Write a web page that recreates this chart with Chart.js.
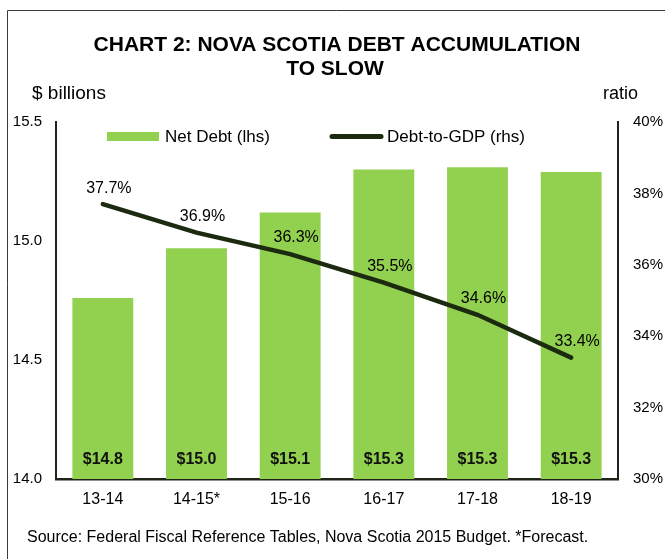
<!DOCTYPE html>
<html>
<head>
<meta charset="utf-8">
<script src="https://cdn.jsdelivr.net/npm/chart.js@4.4.1/dist/chart.umd.min.js"></script>
<style>
  html, body { margin: 0; padding: 0; background: #ffffff; }
  canvas { display: block; }
</style>
</head>
<body>
<canvas id="grafDivida" width="665" height="559"></canvas>
<script>
// dados do gráfico
var categorias = ['13-14', '14-15*', '15-16', '16-17', '17-18', '18-19'];
var dividaLiquida = [14.76, 14.97, 15.12, 15.30, 15.31, 15.29];
var rotulosDivida = ['$14.8', '$15.0', '$15.1', '$15.3', '$15.3', '$15.3'];
var dividaPib = [37.7, 36.9, 36.3, 35.5, 34.6, 33.4];
var ticksEsquerda = [14.0, 14.5, 15.0, 15.5];
var ticksDireita = [30, 32, 34, 36, 38, 40];

var corBarra = '#92d050';
var corLinha = '#1c2a10';
var corEixo = '#1e2418';
var fonte = '"Liberation Sans", Arial, sans-serif';

// textos, legenda e rótulos desenhados depois do gráfico
var pluginTextos = {
  id: 'textos',
  afterDraw: function (chart) {
    var ctx = chart.ctx;
    ctx.save();

    // moldura
    ctx.strokeStyle = '#3a3a3a';
    ctx.lineWidth = 1;
    ctx.beginPath();
    ctx.moveTo(7.5, 559);
    ctx.lineTo(7.5, 10.5);
    ctx.lineTo(665, 10.5);
    ctx.stroke();

    // título
    ctx.fillStyle = '#000000';
    ctx.textAlign = 'center';
    ctx.textBaseline = 'middle';
    ctx.font = 'bold 21px ' + fonte;
    ctx.fillText('CHART 2: NOVA SCOTIA DEBT ACCUMULATION', 337, 45);
    ctx.fillText('TO SLOW', 335, 69);

    ctx.font = '19px ' + fonte;
    ctx.textAlign = 'left';
    ctx.fillText('$ billions', 32, 94);
    ctx.font = '18px ' + fonte;
    ctx.fillText('ratio', 603, 94);

    // fonte
    ctx.font = '16px ' + fonte;
    ctx.fillText('Source: Federal Fiscal Reference Tables, Nova Scotia 2015 Budget. *Forecast.', 27, 538);

    // legenda
    ctx.fillStyle = corBarra;
    ctx.fillRect(107, 132, 52, 9);
    ctx.strokeStyle = corLinha;
    ctx.lineWidth = 5;
    ctx.lineCap = 'round';
    ctx.beginPath();
    ctx.moveTo(332, 136.5);
    ctx.lineTo(381, 136.5);
    ctx.stroke();
    ctx.fillStyle = '#000000';
    ctx.font = '17px ' + fonte;
    ctx.fillText('Net Debt (lhs)', 165, 137);
    ctx.fillText('Debt-to-GDP (rhs)', 387, 137);

    // rótulos das barras
    var metaBarras = chart.getDatasetMeta(0);
    ctx.textAlign = 'center';
    ctx.font = 'bold 16px ' + fonte;
    ctx.fillStyle = '#111111';
    metaBarras.data.forEach(function (barra, i) {
      ctx.fillText(rotulosDivida[i], barra.x, chart.chartArea.bottom - 19);
    });

    // rótulos da linha
    var metaLinha = chart.getDatasetMeta(1);
    ctx.font = '16px ' + fonte;
    ctx.fillStyle = '#000000';
    metaLinha.data.forEach(function (ponto, i) {
      ctx.fillText(dividaPib[i].toFixed(1) + '%', ponto.x + 6, ponto.y - 16);
    });

    ctx.restore();
  }
};

var ctxDivida = document.getElementById('grafDivida').getContext('2d');

var grafDivida = new Chart(ctxDivida, {
  type: 'bar',
  data: {
    labels: categorias,
    datasets: [{
      label: 'Net Debt (lhs)',
      data: dividaLiquida,
      backgroundColor: corBarra,
      borderWidth: 0,
      barPercentage: 0.65,
      categoryPercentage: 1,
      yAxisID: 'y',
      order: 2
    }, {
      type: 'line',
      label: 'Debt-to-GDP (rhs)',
      data: dividaPib,
      borderColor: corLinha,
      borderWidth: 4.5,
      borderCapStyle: 'round',
      pointRadius: 0,
      tension: 0,
      fill: false,
      yAxisID: 'y1',
      order: 1
    }]
  },
  options: {
    responsive: false,
    animation: false,
    devicePixelRatio: 1,
    layout: {
      padding: { top: 122, left: 0, right: 0, bottom: 0 }
    },
    scales: {
      x: {
        grid: { display: false, drawTicks: false },
        border: { display: true, color: corEixo, width: 2.5 },
        ticks: {
          color: '#000000',
          font: { family: fonte, size: 16 },
          padding: 11
        },
        afterFit: function (scale) { scale.height = 80; }
      },
      y: {
        position: 'left',
        min: 14,
        max: 15.5,
        afterBuildTicks: function (scale) {
          scale.ticks = ticksEsquerda.map(function (v) { return { value: v }; });
        },
        grid: { display: false, drawTicks: false },
        border: { display: true, color: corEixo, width: 2 },
        ticks: {
          color: '#000000',
          font: { family: fonte, size: 15 },
          padding: 14,
          callback: function (v) { return Number(v).toFixed(1); }
        },
        afterFit: function (scale) { scale.width = 56; }
      },
      y1: {
        position: 'right',
        min: 30,
        max: 40,
        afterBuildTicks: function (scale) {
          scale.ticks = ticksDireita.map(function (v) { return { value: v }; });
        },
        grid: { display: false, drawTicks: false },
        border: { display: true, color: corEixo, width: 2 },
        ticks: {
          color: '#000000',
          font: { family: fonte, size: 15 },
          padding: 15,
          callback: function (v) { return v + '%'; }
        },
        afterFit: function (scale) { scale.width = 47; }
      }
    },
    plugins: {
      legend: { display: false },
      tooltip: { enabled: false }
    }
  },
  plugins: [pluginTextos]
});
</script>
</body>
</html>
